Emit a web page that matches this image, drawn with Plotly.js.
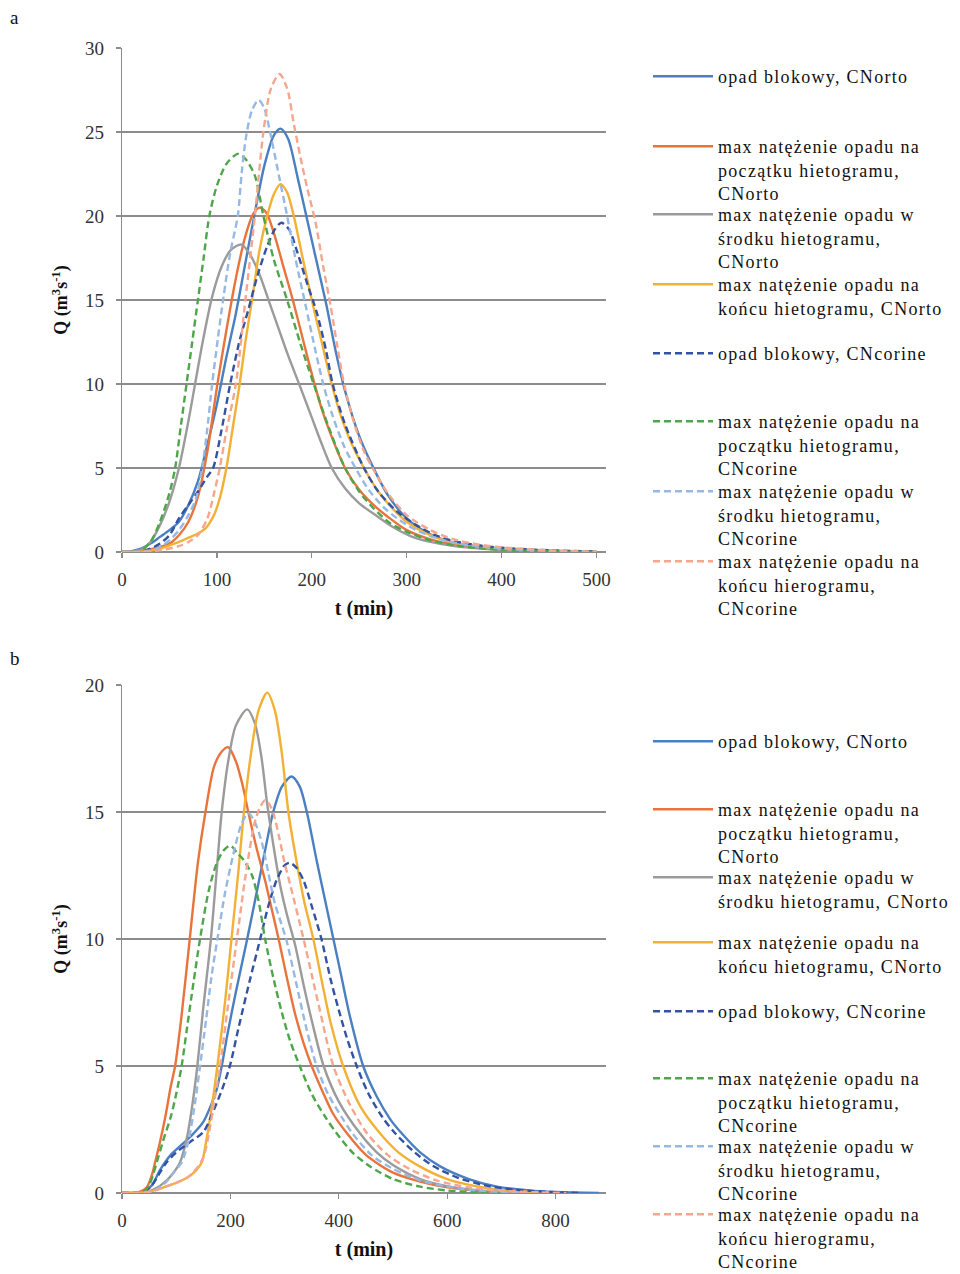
<!DOCTYPE html>
<html>
<head>
<meta charset="utf-8">
<script src="https://cdn.plot.ly/plotly-3.0.1.min.js"></script>
<style>
html,body{margin:0;padding:0;background:#fff;}
#chart{width:960px;height:1274px;}
</style>
</head>
<body>
<div id="chart"></div>
<script>
// ---------- legend labels ----------
const namesA = [
  "opad blokowy, CNorto",
  "max natężenie opadu na<br>początku hietogramu,<br>CNorto",
  "max natężenie opadu w<br>środku hietogramu,<br>CNorto",
  "max natężenie opadu na<br>końcu hietogramu, CNorto",
  "opad blokowy, CNcorine",
  "max natężenie opadu na<br>początku hietogramu,<br>CNcorine",
  "max natężenie opadu w<br>środku hietogramu,<br>CNcorine",
  "max natężenie opadu na<br>końcu hierogramu,<br>CNcorine"
];
const namesB = [
  "opad blokowy, CNorto",
  "max natężenie opadu na<br>początku hietogramu,<br>CNorto",
  "max natężenie opadu w<br>środku hietogramu, CNorto",
  "max natężenie opadu na<br>końcu hietogramu, CNorto",
  "opad blokowy, CNcorine",
  "max natężenie opadu na<br>początku hietogramu,<br>CNcorine",
  "max natężenie opadu w<br>środku hietogramu,<br>CNcorine",
  "max natężenie opadu na<br>końcu hierogramu,<br>CNcorine"
];

// ---------- chart a data: t (min), Q (m3/s) ----------
const a_blokOrto_t = [0,10,20,30,40,50,60,70,80,90,100,110,120,130,140,150,160,167,175,185,195,205,215,225,235,250,265,280,300,325,350,375,400,450,500];
const a_blokOrto_q = [0,0.05,0.2,0.5,0.9,1.3,1.8,2.8,4.2,6.4,8.8,11.6,14.2,17.2,20.2,23.0,24.8,25.2,24.6,22.3,19.8,17.3,14.8,12.0,9.6,6.9,5.0,3.4,2.0,1.05,0.55,0.32,0.2,0.08,0.02];

const a_poczOrto_t = [0,20,30,40,50,60,70,80,90,100,110,120,130,138,145,152,160,170,180,190,200,210,220,235,250,265,280,300,325,350,400,450,500];
const a_poczOrto_q = [0,0.05,0.15,0.3,0.5,1.0,1.8,3.3,6.0,9.8,13.2,16.3,18.8,20.1,20.5,20.2,19.0,17.0,15.0,12.8,10.6,8.6,7.0,5.0,3.7,2.8,2.1,1.3,0.75,0.42,0.15,0.05,0];

const a_srodOrto_t = [0,20,30,40,50,60,70,77,85,95,105,115,126,135,145,155,165,175,188,200,210,221,235,250,267,285,304,325,350,400,450,500];
const a_srodOrto_q = [0,0.15,0.6,1.6,3.0,5.0,7.8,10.0,12.5,15.2,17.0,18.0,18.3,17.7,16.5,14.9,13.3,11.7,9.8,8.0,6.5,5.0,3.8,2.9,2.2,1.5,0.95,0.6,0.35,0.12,0.04,0];

const a_koncOrto_t = [0,20,30,40,50,60,70,80,88,92,97,103,110,117,124,130,137,145,153,160,167,174,181,190,200,210,221,230,240,255,270,285,300,325,350,400,450,500];
const a_koncOrto_q = [0,0.02,0.08,0.2,0.4,0.6,0.85,1.1,1.4,1.7,2.2,3.2,5.0,7.5,10.0,12.5,15.0,18.0,20.0,21.3,21.9,21.4,20.0,17.6,15.0,12.6,10.0,8.2,6.7,5.0,3.6,2.6,1.8,1.0,0.55,0.2,0.07,0];

const a_blokCor_t = [0,20,30,40,50,60,70,80,90,96,105,114,124,133,143,153,161,168,176,185,195,205,215,222,235,255,270,290,310,330,350,375,400,450,500];
const a_blokCor_q = [0,0.05,0.2,0.5,1.0,2.0,2.8,3.6,4.5,5.0,7.3,10.0,12.6,14.4,16.5,18.2,19.2,19.6,19.2,17.8,16.0,14.3,12.0,10.0,7.6,5.0,3.6,2.4,1.6,1.0,0.65,0.4,0.25,0.1,0.03];

const a_poczCor_t = [0,20,30,40,50,56,62,68,74,80,86,92,100,110,122,130,140,149,160,174,188,202,218,235,250,265,283,300,325,350,400,450,500];
const a_poczCor_q = [0,0.1,0.6,1.8,3.5,5.0,7.5,10.0,12.5,15.0,17.5,20.0,21.8,23.1,23.7,23.4,22.4,20.0,17.4,15.0,12.4,10.0,7.4,5.0,3.6,2.6,1.7,1.2,0.7,0.4,0.12,0.04,0];

const a_srodCor_t = [0,30,40,50,60,70,78,85,90,95,101,107,114,122,126,131,137,144,150,156,165,174,183,193,203,212,222,234,246,260,275,290,310,330,350,400,450,500];
const a_srodCor_q = [0,0.1,0.3,0.7,1.3,2.2,3.2,5.2,7.4,10.0,12.7,15.2,17.8,20.0,22.5,24.8,26.3,26.9,26.4,25.0,22.5,20.0,17.4,14.8,12.2,10.0,8.1,6.3,5.0,3.7,2.7,2.0,1.3,0.85,0.55,0.2,0.07,0];

const a_koncCor_t = [0,20,40,60,70,80,90,97,103,110,120,130,140,149,157,166,174,181,188,195,204,212,220,227,234,245,255,265,280,300,325,350,375,400,450,500];
const a_koncCor_q = [0,0.02,0.1,0.35,0.6,1.0,2.0,3.5,5.0,7.2,10.0,15.0,20.0,25.0,27.6,28.45,27.6,25.5,23.5,21.7,19.6,17.0,14.6,12.2,10.0,7.6,6.0,4.9,3.5,2.2,1.3,0.75,0.45,0.28,0.1,0.02];

// ---------- chart b data ----------
const b_blokOrto_t = [0,40,55,70,90,110,130,150,165,175,184,195,210,231,250,265,279,295,313,328,341,360,375,390,405,420,445,470,495,516,550,587,640,692,750,800,880];
const b_blokOrto_q = [0,0.05,0.3,0.9,1.5,1.9,2.3,2.8,3.5,4.1,5.0,6.3,7.9,10.0,12.0,13.6,15.0,16.0,16.4,16.0,15.0,13.0,11.5,10.0,8.5,7.0,5.0,3.8,2.9,2.35,1.6,1.05,0.55,0.25,0.1,0.04,0];

const b_poczOrto_t = [0,30,45,55,61,70,80,90,98,110,125,140,154,170,185,196,210,222,233,248,264,276,289,305,320,335,350,370,390,415,450,500,550,600,650,700,750];
const b_poczOrto_q = [0,0.02,0.2,0.7,1.2,2.0,3.0,4.2,5.0,7.0,10.0,13.0,15.0,16.8,17.4,17.55,17.0,16.1,15.0,13.6,12.3,11.2,10.0,8.4,7.0,5.9,5.0,4.0,3.1,2.35,1.5,0.8,0.45,0.22,0.1,0.04,0];

const b_srodOrto_t = [0,40,60,80,95,107,120,130,139,150,164,174,184,196,210,231,245,257,268,280,292,305,319,335,350,372,400,439,470,500,550,600,650,700,750];
const b_srodOrto_q = [0,0.02,0.15,0.45,0.8,1.2,2.2,3.5,5.0,7.3,10.0,12.5,15.0,17.0,18.4,19.04,18.5,17.2,15.3,13.6,12.1,10.9,9.8,8.2,6.8,5.0,3.6,2.35,1.6,1.1,0.55,0.27,0.12,0.05,0];

const b_koncOrto_t = [0,40,60,80,100,120,135,147,155,165,176,190,202,214,225,238,252,268,282,295,307,320,336,353,370,385,408,440,476,510,550,600,650,700,750,800];
const b_koncOrto_q = [0,0.02,0.1,0.25,0.4,0.6,0.85,1.2,2.0,3.3,5.0,7.5,10.0,12.5,15.0,17.3,19.0,19.7,19.0,17.3,15.0,13.3,11.5,10.0,8.2,6.7,5.0,3.4,2.35,1.6,1.04,0.55,0.28,0.12,0.05,0];

const b_blokCor_t = [0,40,55,70,82,100,125,150,170,185,199,215,235,255,270,285,300,310,322,335,350,368,385,400,415,433,455,480,504,540,575,620,670,720,780,850];
const b_blokCor_q = [0,0.05,0.3,0.8,1.2,1.6,2.0,2.4,3.3,4.1,5.0,6.5,8.3,10.0,11.3,12.3,12.9,13.0,12.8,12.3,11.3,10.0,8.4,7.2,6.1,5.0,3.9,3.0,2.35,1.6,1.05,0.6,0.3,0.14,0.05,0];

const b_poczCor_t = [0,40,50,57,64,75,90,100,110,120,132,144,160,175,188,200,212,225,240,252,264,280,295,310,328,350,375,396,425,458,500,550,600,650,700];
const b_poczCor_q = [0,0.05,0.3,0.7,1.2,2.0,3.0,3.9,5.0,6.5,8.3,10.0,11.9,13.0,13.5,13.68,13.4,13.1,12.5,11.5,10.0,8.4,7.1,6.0,5.0,3.9,3.0,2.35,1.6,1.04,0.55,0.25,0.1,0.03,0];

const b_srodCor_t = [0,40,60,80,95,110,122,133,144,155,165,176,190,205,220,233,245,258,270,282,294,304,320,340,359,380,405,425,460,500,550,600,650,700,750];
const b_srodCor_q = [0,0.02,0.1,0.4,0.8,1.2,2.0,3.3,5.0,6.8,8.5,10.0,11.8,13.3,14.5,14.95,14.6,13.8,12.6,11.4,10.6,9.9,8.4,6.5,5.0,3.9,3.0,2.35,1.5,0.95,0.5,0.25,0.11,0.04,0];

const b_koncCor_t = [0,40,60,80,100,120,135,150,160,170,181,195,212,228,245,255,264,272,280,290,300,312,335,350,365,390,420,452,490,530,580,640,700,760,820];
const b_koncCor_q = [0,0.02,0.1,0.25,0.4,0.6,0.9,1.4,2.3,3.6,5.0,7.3,10.0,12.5,14.6,15.2,15.47,15.3,14.9,14.0,13.0,12.0,10.0,8.6,7.2,5.0,3.5,2.35,1.5,0.95,0.5,0.22,0.09,0.03,0];

// ---------- styles ----------
const colors = ['#4A7FC1','#E8743B','#9B9B9B','#F2B134','#3352A3','#4EA64A','#96B9E3','#F5A68C'];
const dashes = ['solid','solid','solid','solid','7px,4px','7px,4px','7px,4px','7px,4px'];

const seriesA = [
  [a_blokOrto_t,a_blokOrto_q],[a_poczOrto_t,a_poczOrto_q],[a_srodOrto_t,a_srodOrto_q],[a_koncOrto_t,a_koncOrto_q],
  [a_blokCor_t,a_blokCor_q],[a_poczCor_t,a_poczCor_q],[a_srodCor_t,a_srodCor_q],[a_koncCor_t,a_koncCor_q]
];
const seriesB = [
  [b_blokOrto_t,b_blokOrto_q],[b_poczOrto_t,b_poczOrto_q],[b_srodOrto_t,b_srodOrto_q],[b_koncOrto_t,b_koncOrto_q],
  [b_blokCor_t,b_blokCor_q],[b_poczCor_t,b_poczCor_q],[b_srodCor_t,b_srodCor_q],[b_koncCor_t,b_koncCor_q]
];

// legend entry positions (px from top: centre of first text line)
const legTopA = [77,147,215,285,354,422,492,562];
const legTopB = [742,810,878,943,1012,1079,1147,1215];

const H = 1274, W = 960;
const serif = 'Liberation Serif, Times New Roman, serif';
const gridC = '#8c8c8c';

const traces = [];
const legends = {};
function legId(n){ return n===1 ? 'legend' : 'legend'+n; }
function mkLegend(centerPx){
  return {x:648/W, xanchor:'left', y:1-(centerPx-19)/H, yanchor:'top', valign:'top',
    itemwidth:60, bgcolor:'rgba(0,0,0,0)', borderwidth:0,
    font:{family:serif, size:18, color:'#111'}};
}
seriesA.forEach((s,i)=>{
  const id = legId(i+1);
  legends[id] = mkLegend(legTopA[i]);
  traces.push({x:s[0], y:s[1], type:'scatter', mode:'lines', name:namesA[i],
    xaxis:'x', yaxis:'y', legend:id,
    line:{color:colors[i], width:2.4, dash:dashes[i], shape:'spline', smoothing:0.8}});
});
seriesB.forEach((s,i)=>{
  const id = legId(i+9);
  legends[id] = mkLegend(legTopB[i]);
  traces.push({x:s[0], y:s[1], type:'scatter', mode:'lines', name:namesB[i],
    xaxis:'x2', yaxis:'y2', legend:id,
    line:{color:colors[i], width:2.4, dash:dashes[i], shape:'spline', smoothing:0.8}});
});

function xAxis(range, dtick, domain, anchor){
  return {domain:domain, anchor:anchor, range:range, dtick:dtick, tick0:0,
    showgrid:false, zeroline:false, showline:false,
    ticks:'outside', ticklen:5, tickcolor:gridC, tickwidth:1.2,
    ticklabelstandoff:5,
    tickfont:{family:serif, size:19, color:'#333'},
    title:{text:'<b>t (min)</b>', font:{family:serif, size:20, color:'#111'}, standoff:12}};
}
function yAxis(range, domain, anchor){
  return {domain:domain, anchor:anchor, range:range, dtick:5, tick0:0,
    showgrid:true, gridcolor:gridC, gridwidth:1.3,
    zeroline:true, zerolinecolor:gridC, zerolinewidth:1.3,
    showline:true, linecolor:gridC, linewidth:1.3,
    ticks:'outside', ticklen:5, tickcolor:gridC, tickwidth:1.2,
    ticklabelstandoff:8,
    tickfont:{family:serif, size:19, color:'#333'},
    title:{text:'<b>Q (m<sup>3</sup>s<sup>-1</sup>)</b>', font:{family:serif, size:18, color:'#111'}, standoff:12}};
}

const xd = [122/W, 606/W];
const layout = Object.assign({
  width:W, height:H,
  margin:{l:0, r:0, t:0, b:0, autoexpand:false},
  paper_bgcolor:'#fff', plot_bgcolor:'#fff',
  showlegend:true,
  xaxis: xAxis([0,510], 100, xd, 'y'),
  yaxis: yAxis([0,30], [1-552/H, 1-48/H], 'x'),
  xaxis2: xAxis([0,893], 200, xd, 'y2'),
  yaxis2: yAxis([0,20], [1-1193/H, 1-685/H], 'x2'),
  annotations:[
    {text:'a', xref:'paper', yref:'paper', x:8/W, y:1-18/H, xanchor:'left', yanchor:'middle', showarrow:false,
     font:{family:serif, size:19, color:'#111'}},
    {text:'b', xref:'paper', yref:'paper', x:8/W, y:1-658/H, xanchor:'left', yanchor:'middle', showarrow:false,
     font:{family:serif, size:19, color:'#111'}}
  ]
}, legends);

// widen legend lettering (the source text is set loosely), after every legend is drawn
function spaceLegends(){
  const gd = document.getElementById('chart');
  gd.querySelectorAll('.infolayer g[class^="legend"]').forEach(g=>{
    g.querySelectorAll('text').forEach(t=>{ t.style.letterSpacing='1.3px'; });
    g.querySelectorAll('[clip-path]').forEach(c=>c.removeAttribute('clip-path'));
  });
}
Plotly.newPlot('chart', traces, layout, {staticPlot:true, displayModeBar:false}).then(()=>{
  spaceLegends();
  requestAnimationFrame(spaceLegends);
  setTimeout(spaceLegends, 50);
  setTimeout(spaceLegends, 300);
});
</script>
</body>
</html>
